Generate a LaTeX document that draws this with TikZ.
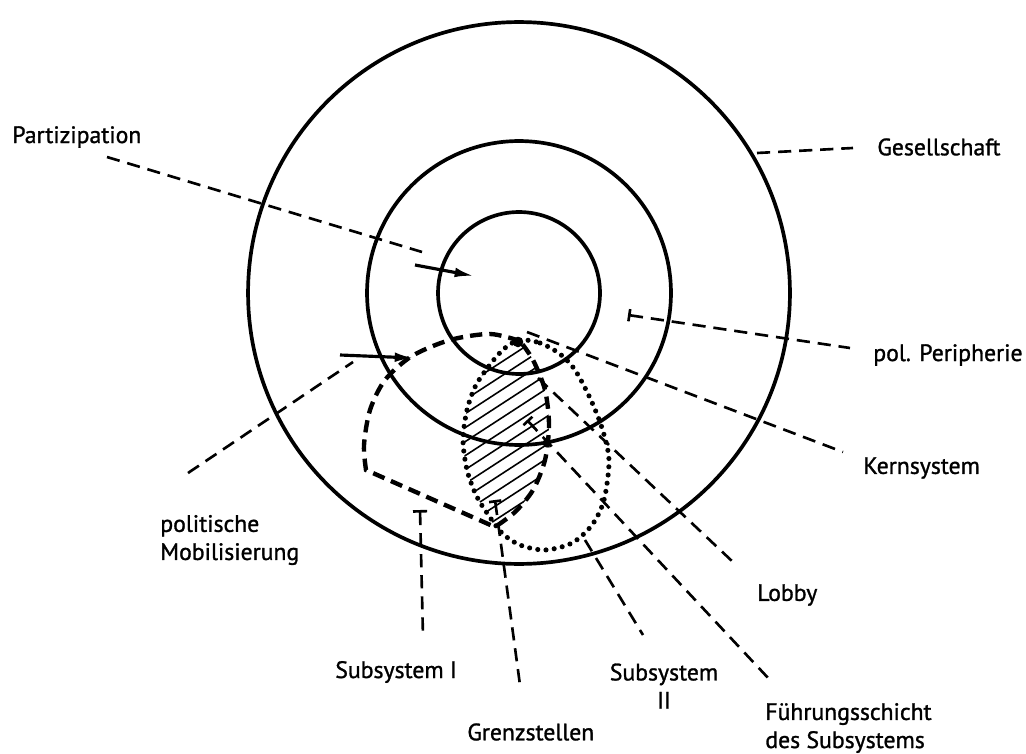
\documentclass[tikz,border=0pt]{standalone}
\usepackage{fontspec}
\setmainfont{PT Sans}[FakeBold=1.2]
\usetikzlibrary{arrows.meta}
\tikzset{>={Latex[length=11pt,width=5.5pt]},
  ring/.style={line width=2.1pt},
  lead/.style={line width=1.5pt,dash pattern=on 7.5pt off 4.5pt},
  subone/.style={line width=2.5pt,dash pattern=on 7pt off 4pt},
  subtwo/.style={line width=2.9pt,line cap=round,dash pattern=on 0pt off 4.7pt},
  hatch/.style={line width=0.9pt},
  lbl/.style={font=\fontsize{13.5}{16}\selectfont,inner sep=0pt}}

\begin{document}
\begin{tikzpicture}[x=0.02cm,y=-0.02cm]
  \useasboundingbox (0,0) rectangle (1026,753);
  \coordinate (c) at (519,293);
  \draw[ring] (c) circle (5.42cm);
  \draw[ring] (c) circle (3.04cm);
  \draw[ring] (c) circle (1.62cm);

  % Grenzstellen (schraffiert)
  \begin{scope}
    \clip plot[smooth] coordinates {(520,341) (505,348) (492,362) (476,385) (467,410) (463,440) (467,470) (476,495) (487,513) (495,527)}
      -- plot[smooth] coordinates {(495,527) (515,512) (533,490) (545,460) (549,425) (545,390) (533,360) (520,341)} -- cycle;
    \foreach \c in {688,702,...,856}
      \draw[hatch] (440,{\c-286}) -- (580,{\c-377});
  \end{scope}

  \draw[subtwo] plot[smooth cycle] coordinates {(520,340) (540,343) (560,354) (575,370) (590,398) (602,428) (609,460) (604,500) (592,525) (572,543) (545,550) (520,545) (502,533) (487,513) (476,495) (467,470) (463,440) (467,410) (476,385) (492,362) (505,348)};
  \draw[subone] plot[smooth] coordinates {(520,341) (490,334) (450,340) (412,356) (385,380) (370,410) (364,445) (366,470)}
    -- (495,527) -- plot[smooth] coordinates {(495,527) (515,512) (533,490) (545,460) (549,425) (545,390) (533,360) (520,341)};
  \fill (518,342) circle (3pt);
  \fill (547,443) circle (2.5pt);

  \node[lbl,anchor=west] (partiz) at (12,137) {Partizipation};
  \node[lbl,anchor=west] (gesell) at (877,147) {Gesellschaft};
  \node[lbl,anchor=west] (peri) at (873,355) {pol. Peripherie};
  \node[lbl,anchor=west] (kern) at (863,468) {Kernsystem};
  \node[lbl,anchor=west] (lobby) at (757,595) {Lobby};
  \node[lbl,anchor=west,align=left] (fuehr) at (765,728) {Führungsschicht\\des Subsystems};
  \node[lbl,align=center] (subII) at (664,686) {Subsystem\\II};
  \node[lbl,anchor=west] (subI) at (335,672) {Subsystem I};
  \node[lbl,anchor=west] (grenz) at (467,732) {Grenzstellen};
  \node[lbl,anchor=west,align=left] (mobil) at (160,540) {politische\\Mobilisierung};

  \coordinate (pa1) at (107,157);  \coordinate (pa2) at (422,252);
  \coordinate (pa3) at (415,265);  \coordinate (pa4) at (474,276);
  \coordinate (ge1) at (757,153);  \coordinate (ge2) at (853,148);
  \coordinate (pe1) at (628,315);  \coordinate (pe2) at (850,348);
  \coordinate (ke1) at (527,332);  \coordinate (ke2) at (843,452);
  \coordinate (lo1) at (538,378);  \coordinate (lo2) at (733,562);
  \coordinate (fu1) at (527,420);  \coordinate (fu2) at (770,680);
  \coordinate (s21) at (585,540);  \coordinate (s22) at (643,635);
  \coordinate (s11) at (420,510);  \coordinate (s12) at (423,637);
  \coordinate (gr1) at (495,500);  \coordinate (gr2) at (520,685);
  \coordinate (mo1) at (188,473);  \coordinate (mo2) at (353,362);
  \coordinate (mo3) at (340,355);  \coordinate (mo4) at (414,358);

  \draw[lead] (pa1) -- (pa2);
  \draw[->,line width=1.8pt] (pa3) -- (pa4);
  \draw[lead] (ge1) -- (ge2);
  \draw[lead,{Bar[width=7pt]}-] (pe1) -- (pe2);
  \draw[lead] (ke1) -- (ke2);
  \draw[lead] (lo1) -- (lo2);
  \draw[lead,{Bar[width=7pt]}-] (fu1) -- (fu2);
  \draw[lead] (s21) -- (s22);
  \draw[lead,{Bar[width=8pt]}-] (s11) -- (s12);
  \draw[lead,{Bar[width=7pt]}-] (gr1) -- (gr2);
  \draw[lead] (mo1) -- (mo2);
  \draw[->,line width=1.8pt] (mo3) -- (mo4);
\end{tikzpicture}
\end{document}
